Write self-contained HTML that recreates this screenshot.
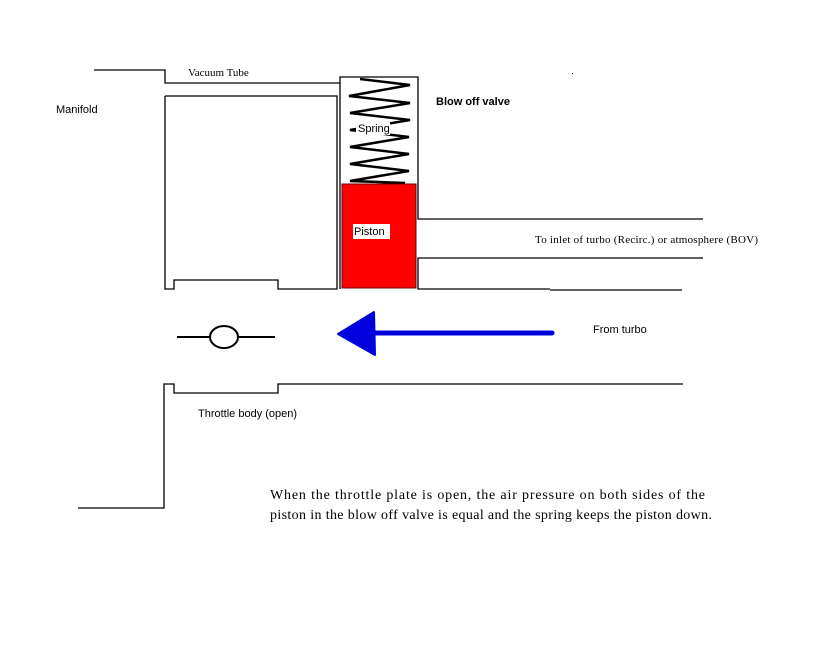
<!DOCTYPE html>
<html><head><style>
html,body{margin:0;padding:0;background:#fff;}
svg{display:block;}
text{font-family:"Liberation Sans",sans-serif;font-size:11px;fill:#000;}
.serif{font-family:"Liberation Serif",serif;}
</style></head><body>
<svg width="816" height="668" viewBox="0 0 816 668" xmlns="http://www.w3.org/2000/svg">
<g fill="none" stroke="#000" stroke-width="1.3">
<polyline points="94,70 165,70 165,83 340,83 340,77 418,77 418,219 703,219"/>
<polyline points="165,96 337,96 337,289 278,289 278,280 174,280 174,289 165,289 165,96"/>
<line x1="340" y1="83" x2="340" y2="289"/>
<polyline points="703,258 418,258 418,289 550,289"/>
<line x1="550" y1="290" x2="682" y2="290"/>
<polyline points="683,384 278,384 278,393 174,393 174,384 164,384 164,508 78,508"/>
<polyline stroke-width="2.5" points="360,79 410,85 349,96 410,103 350,113 410,120 350,130 409,137 350,147 409,154 350,164 409,171 350,181 405,183"/>
<line x1="177" y1="337" x2="275" y2="337" stroke-width="2"/>
<ellipse cx="224" cy="337" rx="14" ry="11" fill="#fff" stroke-width="2"/>
</g>
<rect x="342" y="184" width="74" height="104" fill="#f00" stroke="#600" stroke-width="1"/>
<rect x="353" y="224" width="37" height="15" fill="#fff"/>
<line x1="372" y1="333" x2="552" y2="333" stroke="#0000dd" stroke-width="5" stroke-linecap="round"/>
<polygon points="338,334 374,312 375,355" fill="#0000dd" stroke="#0000dd" stroke-width="2" stroke-linejoin="round"/>
<rect x="356" y="120" width="34" height="15" fill="#fff"/>
<text x="358" y="132">Spring</text>
<text x="354" y="235">Piston</text>
<text class="serif" x="188" y="76">Vacuum Tube</text>
<text x="56" y="113">Manifold</text>
<text x="436" y="105" font-weight="bold">Blow off valve</text>
<text class="serif" x="535" y="243" textLength="223" lengthAdjust="spacing">To inlet of turbo (Recirc.) or atmosphere (BOV)</text>
<text x="593" y="333">From turbo</text>
<text x="198" y="417">Throttle body (open)</text>
<text class="serif" x="270" y="499" style="font-size:14px" textLength="435" lengthAdjust="spacing">When the throttle plate is open, the air pressure on both sides of the</text>
<text class="serif" x="270" y="519" style="font-size:14px" textLength="442" lengthAdjust="spacing">piston in the blow off valve is equal and the spring keeps the piston down.</text>
<rect x="572" y="73" width="1" height="1" fill="#000"/>
</svg>
</body></html>
